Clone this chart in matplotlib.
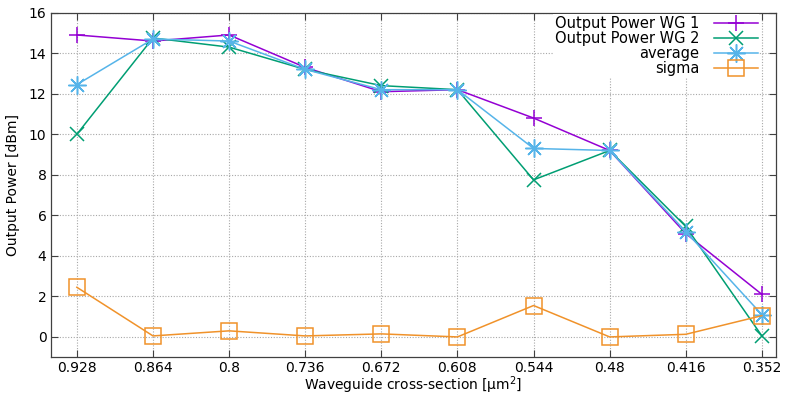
import numpy as np
import matplotlib
matplotlib.use("Agg")
import matplotlib.pyplot as plt

# waveguide cross-section [um^2]
cross_section = [0.928, 0.864, 0.8, 0.736, 0.672, 0.608, 0.544, 0.48, 0.416, 0.352]
tick_labels = ["0.928", "0.864", "0.8", "0.736", "0.672", "0.608", "0.544", "0.48", "0.416", "0.352"]

# output power [dBm]
power_wg1 = [14.9, 14.6, 14.9, 13.3, 12.1, 12.2, 10.8, 9.2, 5.1, 2.1]
power_wg2 = [10.0, 14.75, 14.3, 13.2, 12.4, 12.2, 7.75, 9.2, 5.45, 0.05]
average = [12.45, 14.7, 14.6, 13.2, 12.2, 12.2, 9.3, 9.2, 5.2, 1.1]
sigma = [2.45, 0.05, 0.3, 0.05, 0.15, 0.0, 1.55, 0.0, 0.13, 1.05]

plt.rcParams['font.family'] = ['DejaVu Sans']
plt.rcParams['font.size'] = 10

fig = plt.figure(figsize=(7.92, 3.96), dpi=100)
ax = fig.add_axes([0.064, 0.098, 0.916, 0.870])

ax.plot(cross_section, power_wg1, color='#9400d3', lw=1.1, marker='+', ms=12, mew=1.1,
        label='Output Power WG 1')
ax.plot(cross_section, power_wg2, color='#009e73', lw=1.1, marker='x', ms=10, mew=1.1,
        label='Output Power WG 2')
ax.plot(cross_section, average, color='#56b4e9', lw=1.1, marker=(8, 2, 0), ms=13, mew=1.1,
        label='average')
ax.plot(cross_section, sigma, color='#f0922a', lw=1.1, marker='s', ms=11, mew=1.1,
        mfc='none', label='sigma')

ax.set_xlim(0.95, 0.34)
ax.set_ylim(-1, 16)
ax.set_xticks(cross_section)
ax.set_xticklabels(tick_labels)
ax.set_yticks(np.arange(0, 17, 2))

ax.grid(True, color='#a8a8a8', linestyle=(0, (1, 1.5)), linewidth=0.8)
ax.tick_params(direction='in', top=True, right=True, length=5, width=0.8,
               color='#404040', labelsize=10, pad=3)
for s in ax.spines.values():
    s.set_color('#404040')
    s.set_linewidth(0.9)

ax.set_xlabel('Waveguide cross-section [µm$^2$]', labelpad=-1)
ax.set_ylabel('Output Power [dBm]', labelpad=6)

leg = ax.legend(loc='upper right', bbox_to_anchor=(1.0 - 17 / 726, 1.0 - 1.5 / 344),
                markerfirst=False,
                handlelength=3.0, handletextpad=1.0, labelspacing=0.0,
                borderpad=0.1, borderaxespad=0.0, fontsize=10.5,
                frameon=True, fancybox=False, framealpha=1.0, facecolor='white',
                edgecolor='none')
for col in leg._legend_handle_box.get_children():
    col.align = "right"

fig.savefig('out.png', dpi=100)
